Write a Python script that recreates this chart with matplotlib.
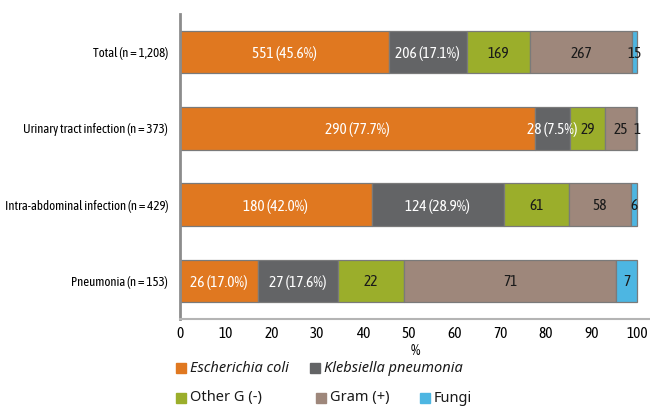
import matplotlib.pyplot as plt
import numpy as np
from matplotlib.patches import Rectangle

groups = ["Total (n = 1,208)", "Urinary tract infection (n = 373)",
          "Intra-abdominal infection (n = 429)", "Pneumonia (n = 153)"]
n_total = [1208, 373, 429, 153]

series = ["Escherichia coli", "Klebsiella pneumonia", "Other G (-)", "Gram (+)", "Fungi"]
e_coli = [551, 290, 180, 26]
klebsiella = [206, 28, 124, 27]
other_gneg = [169, 29, 61, 22]
gram_pos = [267, 25, 58, 71]
fungi = [15, 1, 6, 7]
counts = [e_coli, klebsiella, other_gneg, gram_pos, fungi]

colors = ["#E07820", "#636466", "#9BAE2B", "#9E877B", "#4DB6E2"]
label_colors = ["white", "white", "#1a1a1a", "#1a1a1a", "#1a1a1a"]
italic = [True, True, False, False, False]

narrow = ["Asap Condensed", "DejaVu Sans"]

fig = plt.figure(figsize=(6.5, 4.08), dpi=100)
ax = fig.add_axes([180 / 650, 1 - 319 / 408, 1 - 180 / 650, (319 - 14) / 408])

y = np.arange(len(groups))
n = np.array(n_total, dtype=float)
left = np.zeros(len(groups))
for k, vals in enumerate(counts):
    vals = np.array(vals, dtype=float)
    pct = vals / n * 100
    ax.barh(y, pct, left=left, height=0.56, color=colors[k],
            edgecolor="#7a7a7a", linewidth=0.9)
    for i in range(len(groups)):
        # first two series carry the share in brackets
        if k < 2:
            txt = f"{int(vals[i])} ({pct[i]:.1f}%)"
        else:
            txt = f"{int(vals[i])}"
        ax.text(left[i] + pct[i] / 2, y[i] + 0.02, txt, ha="center", va="center",
                fontsize=11, color=label_colors[k], family=narrow)
    left += pct

ax.set_xlim(0, 102.8)
ax.set_ylim(3.5, -0.5)
ax.set_yticks(y)
ax.set_yticklabels(groups, family=narrow, fontsize=9.3)
ax.set_xticks(np.arange(0, 101, 10))
ax.set_xticklabels([str(v) for v in range(0, 101, 10)], family=narrow, fontsize=11)
ax.tick_params(length=0)
ax.tick_params(axis="x", pad=6)
ax.tick_params(axis="y", pad=8.5)
ax.set_xlabel("%", family=narrow, fontsize=11, labelpad=2)
for s in ["top", "right"]:
    ax.spines[s].set_visible(False)
ax.spines["left"].set_color("#8c8c8c")
ax.spines["left"].set_linewidth(2)
ax.spines["bottom"].set_color("#b4b4b4")
ax.spines["bottom"].set_linewidth(1.5)

# legend laid out in two rows beneath the axis
legend_pos = [(176, 368), (310, 368), (176, 398), (316, 398), (420, 398)]
for k, name in enumerate(series):
    px, py = legend_pos[k]
    fig.patches.append(Rectangle((px / 650, (408 - py - 5) / 408), 10 / 650, 10 / 408,
                                 transform=fig.transFigure, color=colors[k]))
    fig.text((px + 14) / 650, (408 - py) / 408, name, ha="left", va="center",
             fontsize=10.5, family=["Noto Sans", "DejaVu Sans"],
             style="italic" if italic[k] else "normal", color="#1a1a1a")

fig.savefig("out.png", dpi=100)
